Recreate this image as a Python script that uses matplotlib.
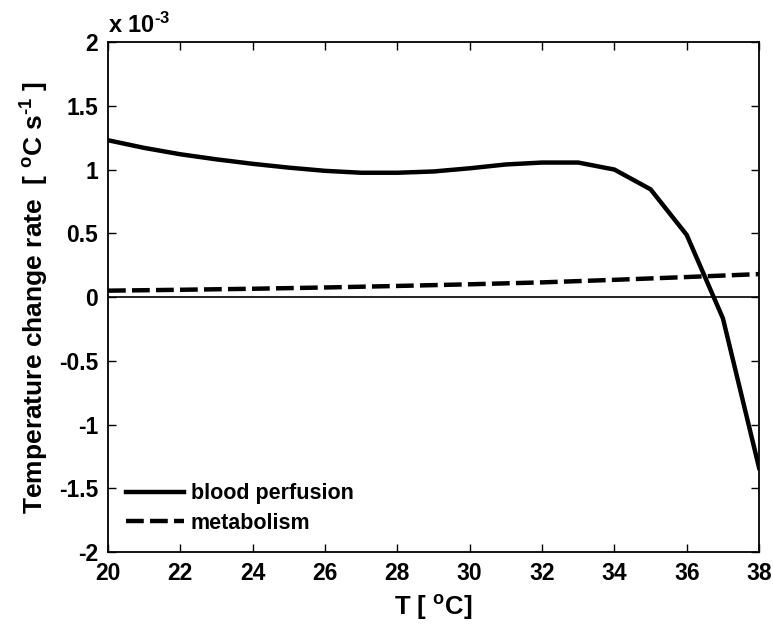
import numpy as np
import matplotlib
matplotlib.use("Agg")
import matplotlib.pyplot as plt

plt.rcParams['font.family'] = ['Liberation Sans', 'DejaVu Sans']
plt.rcParams['mathtext.fontset'] = 'custom'
plt.rcParams['mathtext.rm'] = 'Liberation Sans:bold'
plt.rcParams['mathtext.it'] = 'Liberation Sans:bold'
plt.rcParams['mathtext.bf'] = 'Liberation Sans:bold'

# temperature [degC]
T = [20, 21, 22, 23, 24, 25, 26, 27, 28, 29, 30, 31, 32, 33, 34, 35, 36, 37, 38]
# rates in units of 1e-3 degC/s
perfusion = [1.23, 1.17, 1.12, 1.08, 1.045, 1.015, 0.99, 0.975, 0.975, 0.985,
             1.01, 1.04, 1.055, 1.055, 1.0, 0.845, 0.487, -0.167, -1.34]
T_met = [20, 22, 24, 26, 28, 30, 32, 34, 36, 38]
metabolism = [0.05, 0.057, 0.065, 0.075, 0.087, 0.10, 0.115, 0.135, 0.157, 0.18]

fig = plt.figure(figsize=(7.73, 6.28), dpi=100)
ax = fig.add_axes([0.1397, 0.121, 0.982 - 0.1397, 0.933 - 0.121])

ax.plot(T, perfusion, color='black', lw=3.2, label='blood perfusion')
ax.plot(T_met, metabolism, color='black', lw=3.2, ls=(0, (4, 1.4)), label='metabolism')
ax.axhline(0, color='black', lw=1.2)

ax.set_xlim(20, 38)
ax.set_ylim(-2, 2)
ax.set_xticks(np.arange(20, 39, 2))
ax.set_yticks(np.arange(-2, 2.01, 0.5))
ax.set_yticklabels(['-2', '-1.5', '-1', '-0.5', '0', '0.5', '1', '1.5', '2'])
ax.tick_params(direction='in', top=True, right=True, length=6, width=1,
               labelsize=16.5, pad=7)
for lab in ax.get_xticklabels() + ax.get_yticklabels():
    lab.set_fontweight('bold')
for s in ax.spines.values():
    s.set_linewidth(1.3)

ax.set_xlabel('T [ $^{\\mathrm{o}}$C]', fontsize=18.5, fontweight='bold', labelpad=6)
ax.set_ylabel('Temperature change rate  [ $^{\\mathrm{o}}$C s$^{\\mathrm{\u20101}}$ ]',
              fontsize=19, fontweight='bold', labelpad=6)
ax.text(0.0, 1.008, 'x 10$^{\\mathrm{\u20103}}$', transform=ax.transAxes,
        fontsize=17, fontweight='bold', ha='left', va='bottom')

leg = ax.legend(loc='lower left', frameon=False, handlelength=2.7,
                borderaxespad=0.45, handletextpad=0.3, labelspacing=0.4,
                prop={'weight': 'bold', 'size': 15.5})

fig.savefig('out.png', dpi=100)
